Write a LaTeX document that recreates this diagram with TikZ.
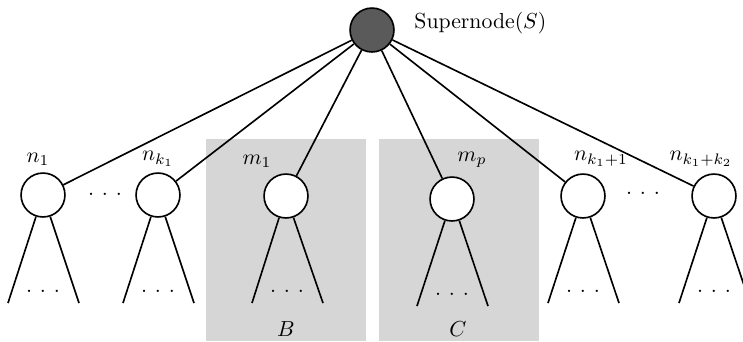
\documentclass[tikz,border=0pt]{standalone}
\definecolor{boxgray}{HTML}{D6D6D6}
\definecolor{supergray}{HTML}{5A5A5A}
\tikzset{
  tn/.style={circle, draw, fill=white, line width=0.75pt, minimum size=20.2pt, inner sep=0pt},
  sn/.style={tn, fill=supergray},
  edge/.style={line width=0.75pt},
  lbl/.style={inner sep=0pt},
  dotsn/.style={inner sep=0pt},
  shade/.style={fill=boxgray, draw=none}
}
\newcommand{\threedots}{$.\hspace{3.6pt}.\hspace{3.6pt}.$}
\begin{document}
\begin{tikzpicture}[x=0.46pt, y=-0.46pt]
\useasboundingbox (0,0) rectangle (743,341);
% shaded boxes
\fill[shade] (206,139) rectangle (366,341);
\fill[shade] (379,139) rectangle (539,341);
% nodes
\node[sn] (S) at (372,30) {};
\node[lbl, anchor=west] (SL) at (414,23) {Supernode$(S)$};
\node[tn] (n1) at (43,195) {};
\node[tn] (nk1) at (158,195) {};
\node[tn] (m1) at (286,196) {};
\node[tn] (mp) at (452,199) {};
\node[tn] (nk11) at (583,196) {};
\node[tn] (nk12) at (714,196) {};
% labels
\node[lbl] (Ln1) at (38,159) {$n_1$};
\node[lbl] (Lnk1) at (158,159) {$n_{k_1}$};
\node[lbl] (Lm1) at (257,161) {$m_1$};
\node[lbl] (Lmp) at (472,160) {$m_p$};
\node[lbl] (Lnk11) at (601,159) {$n_{k_1+1}$};
\node[lbl] (Lnk12) at (701,159) {$n_{k_1+k_2}$};
\node[lbl] (B) at (286,329) {$B$};
\node[lbl] (C) at (458,329) {$C$};
% dots between nodes
\node[dotsn] (d1) at (105,194) {\threedots};
\node[dotsn] (d2) at (643,193) {\threedots};
% edges from supernode
\foreach \c in {n1,nk1,m1,mp,nk11,nk12} \draw[edge] (S) -- (\c);
% subtrees
\foreach \c/\x/\y in {n1/43/303, nk1/158/303, m1/287/303, mp/452/306, nk11/583/303, nk12/714/303} {
  \coordinate (\c-l) at (\x-35,\y);
  \coordinate (\c-r) at (\x+36,\y);
  \draw[edge] (\c) -- (\c-l);
  \draw[edge] (\c) -- (\c-r);
  \node[dotsn] (\c-d) at (\x,\y-12) {\threedots};
}
\end{tikzpicture}
\end{document}
